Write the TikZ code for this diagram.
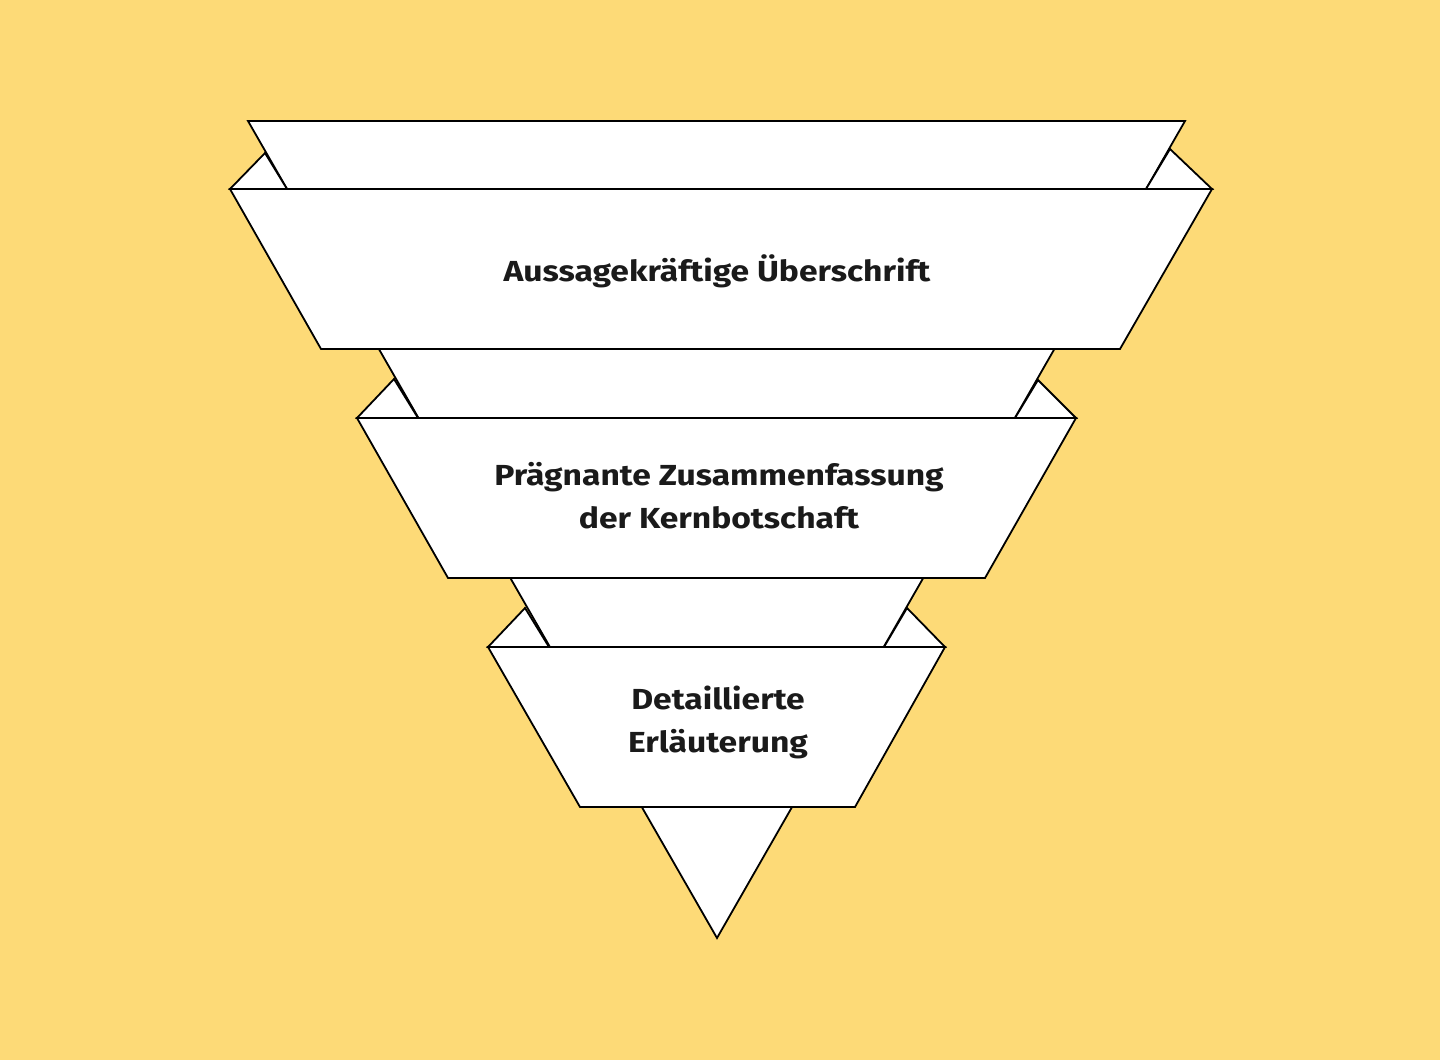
\documentclass[tikz,border=0pt]{standalone}
\usepackage{fontspec}
\setmainfont{Fira Sans}[FakeStretch=1.16]
\definecolor{bgyellow}{HTML}{FDDA77}
\definecolor{ink}{HTML}{1A1A1A}
\begin{document}
\begin{tikzpicture}[x=1pt,y=-1pt,
  panel/.style={fill=white,draw=black,line width=1.8pt,line join=miter},
  lbl/.style={font=\bfseries\fontsize{29}{43}\selectfont,align=center,text=ink,inner sep=0pt}]
\fill[bgyellow] (0,0) rectangle (1440,1060);
\useasboundingbox (0,0) rectangle (1440,1060);
% background triangle
\coordinate (bgL) at (248,121);
\coordinate (bgR) at (1185,121);
\coordinate (apex) at (717,938);
\path[panel] (bgL) -- (bgR) -- (apex) -- cycle;
% folds
\path[panel] (230,189) -- (265,153) -- (287,189) -- cycle;
\path[panel] (1212,189) -- (1170,149) -- (1146,189) -- cycle;
\path[panel] (357,418) -- (394,379) -- (418,418) -- cycle;
\path[panel] (1076,418) -- (1038,380) -- (1015,418) -- cycle;
\path[panel] (488,647) -- (525,608) -- (549,647) -- cycle;
\path[panel] (945,647) -- (907,608) -- (884,647) -- cycle;
% bands
\path[panel] (230,189) -- (1212,189) -- (1120,349) -- (321,349) -- cycle;
\path[panel] (357,418) -- (1076,418) -- (985,578) -- (448,578) -- cycle;
\path[panel] (488,647) -- (945,647) -- (855,807) -- (580,807) -- cycle;
% labels
\node[lbl] (t1) at (717,271) {Aussagekräftige Überschrift};
\node[lbl] (t2) at (719,496) {Prägnante Zusammenfassung\\der Kernbotschaft};
\node[lbl] (t3) at (718,722) {Detaillierte\\Erläuterung};
\end{tikzpicture}
\end{document}
